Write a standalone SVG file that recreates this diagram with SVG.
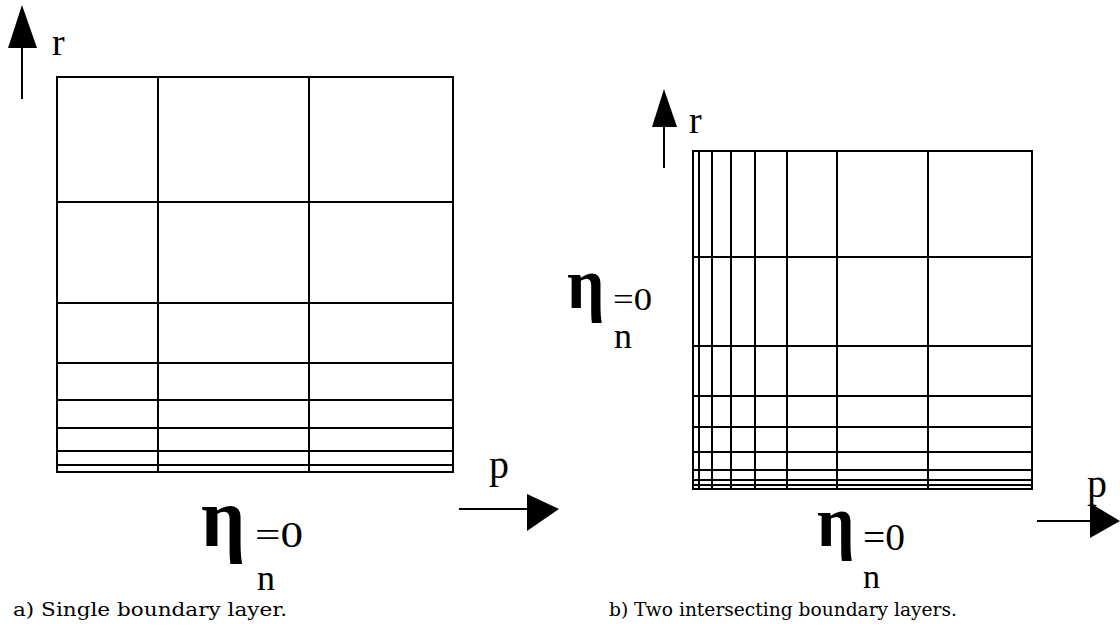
<svg xmlns="http://www.w3.org/2000/svg" width="1120" height="634" viewBox="0 0 1120 634">
<style>
.g{stroke:#000;stroke-width:2;fill:none}
.ax{stroke:#000;stroke-width:2}
.hd{fill:#000;stroke:none}
.t{font-family:"Liberation Serif","Times New Roman",serif;fill:#000}
.eta{font-family:"Liberation Serif","DejaVu Serif",serif;font-weight:bold;fill:#000}
.cap{font-family:"DejaVu Serif","Liberation Serif",serif;font-size:18.5px;fill:#000}
</style>
<rect width="1120" height="634" fill="#fff"/>
<g id="grid-a" class="g">
<rect x="57" y="77" width="396" height="395"/>
<line x1="158" y1="77" x2="158" y2="472"/>
<line x1="309" y1="77" x2="309" y2="472"/>
<line x1="57" y1="202" x2="453" y2="202"/>
<line x1="57" y1="303" x2="453" y2="303"/>
<line x1="57" y1="363" x2="453" y2="363"/>
<line x1="57" y1="400" x2="453" y2="400"/>
<line x1="57" y1="428" x2="453" y2="428"/>
<line x1="57" y1="451" x2="453" y2="451"/>
<line x1="57" y1="465" x2="453" y2="465"/>
</g>
<g id="grid-b" class="g">
<rect x="693" y="151" width="339" height="338"/>
<line x1="699" y1="151" x2="699" y2="489"/>
<line x1="712" y1="151" x2="712" y2="489"/>
<line x1="731" y1="151" x2="731" y2="489"/>
<line x1="755" y1="151" x2="755" y2="489"/>
<line x1="787" y1="151" x2="787" y2="489"/>
<line x1="837" y1="151" x2="837" y2="489"/>
<line x1="928" y1="151" x2="928" y2="489"/>
<line x1="693" y1="257" x2="1032" y2="257"/>
<line x1="693" y1="346" x2="1032" y2="346"/>
<line x1="693" y1="396" x2="1032" y2="396"/>
<line x1="693" y1="427" x2="1032" y2="427"/>
<line x1="693" y1="452" x2="1032" y2="452"/>
<line x1="693" y1="470" x2="1032" y2="470"/>
<line x1="693" y1="480" x2="1032" y2="480"/>
<line x1="693" y1="485" x2="1032" y2="485"/>
</g>
<g id="connectors">
<line class="ax" x1="22" y1="99" x2="22" y2="46"/>
<polygon class="hd" points="22,5 8,48 37,48"/>
<line class="ax" x1="664" y1="168" x2="664" y2="125"/>
<polygon class="hd" points="664,89 652,127 677,127"/>
<line class="ax" x1="459" y1="509" x2="529" y2="509"/>
<polygon class="hd" points="527,494 527,531 559,509"/>
<line class="ax" x1="1037" y1="521" x2="1092" y2="521"/>
<polygon class="hd" points="1090,503 1090,538 1120,521"/>
</g>
<g id="axis-labels">
<text class="t" x="52" y="55" font-size="38">r</text>
<text class="t" x="689" y="133" font-size="38">r</text>
<text class="t" x="489" y="478" font-size="40">p</text>
<text class="t" x="1087" y="497" font-size="40">p</text>
</g>
<g id="label-a">
<text class="eta" x="201" y="0" font-size="78" transform="translate(0,546) scale(1,1.08)">η</text>
<text class="t" x="255" y="547" font-size="36" textLength="48" lengthAdjust="spacingAndGlyphs">=0</text>
<text class="t" x="257" y="590" font-size="36">n</text>
</g>
<g id="label-left">
<text class="eta" x="567" y="0" font-size="66" transform="translate(0,308) scale(1,1.08)">η</text>
<text class="t" x="613" y="310" font-size="32" textLength="39" lengthAdjust="spacingAndGlyphs">=0</text>
<text class="t" x="614" y="348" font-size="36">n</text>
</g>
<g id="label-b">
<text class="eta" x="817" y="0" font-size="66" transform="translate(0,546) scale(1,1.1)">η</text>
<text class="t" x="863" y="550" font-size="38" textLength="42" lengthAdjust="spacingAndGlyphs">=0</text>
<text class="t" x="863" y="588" font-size="34">n</text>
</g>
<g id="captions">
<text class="cap" x="13" y="616" textLength="274" lengthAdjust="spacingAndGlyphs">a) Single boundary layer.</text>
<text class="cap" x="609" y="616" textLength="348" lengthAdjust="spacingAndGlyphs">b) Two intersecting boundary layers.</text>
</g>
</svg>
